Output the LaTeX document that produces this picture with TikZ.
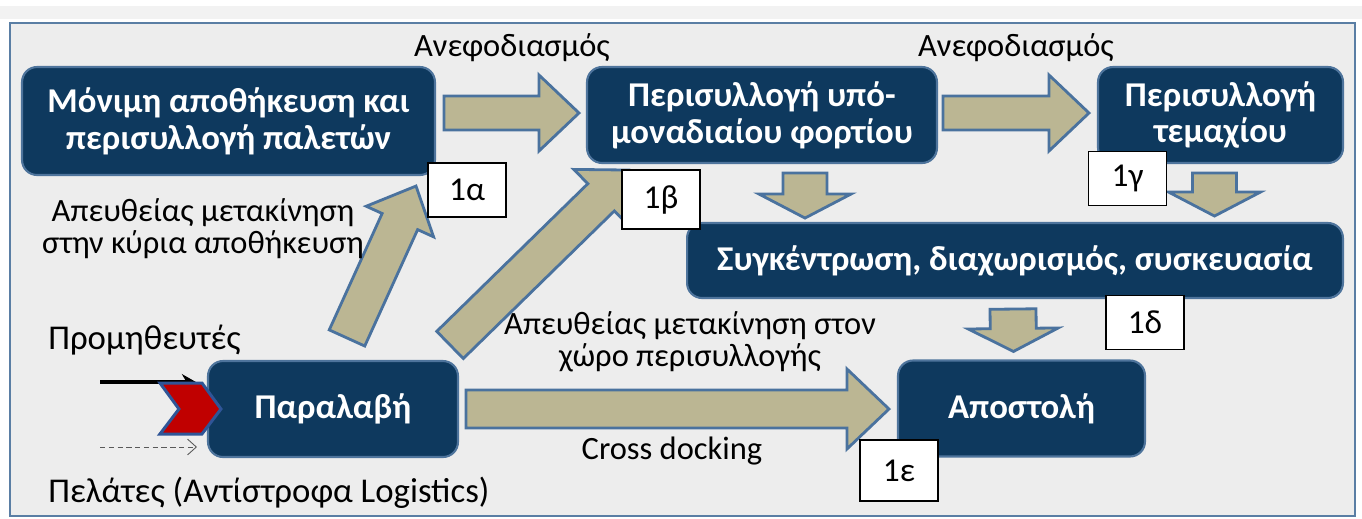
\documentclass[tikz,border=0pt]{standalone}
\usepackage{fontspec}
\setmainfont{Carlito}
\usetikzlibrary{arrows.meta, positioning, calc}
\definecolor{navy}{RGB}{14,57,94}
\definecolor{navyedge}{RGB}{78,116,156}
\definecolor{khaki}{RGB}{187,182,147}
\definecolor{khakiedge}{RGB}{74,114,158}
\definecolor{panel}{RGB}{237,237,237}
\definecolor{paneledge}{RGB}{90,126,164}
\definecolor{strip}{RGB}{242,242,242}
\definecolor{chevred}{RGB}{192,0,0}
\definecolor{chevblue}{RGB}{47,85,151}
\tikzset{
  stage/.style={rectangle, draw=navyedge, fill=navy, text=white,
    align=center, rounded corners=0.3cm, line width=1.2pt, inner sep=0pt,
    font=\fontsize{19.8}{21}\selectfont\bfseries},
  tag/.style={rectangle, draw=black, fill=white, line width=0.6pt,
    minimum width=1.56cm, minimum height=1.08cm, inner sep=0pt,
    font=\fontsize{19}{20}\selectfont},
  lbl/.style={font=\fontsize{18.5}{18.2}\selectfont, align=center, inner sep=0pt},
  fat/.style={draw=khakiedge, fill=khaki, line width=1.6pt, line join=miter}
}
% block arrow: start, tip, half shaft width, half head width, head length
\newcommand{\fatarrow}[5]{%
  \coordinate (fa-s) at #1;
  \coordinate (fa-e) at #2;
  \coordinate (fa-n) at ($(fa-e)!#5!(fa-s)$);
  \draw[fat] ($(fa-s)!#3!90:(fa-e)$) -- ($(fa-n)!#3!90:(fa-e)$)
    -- ($(fa-n)!#4!90:(fa-e)$) -- (fa-e) -- ($(fa-n)!#4!-90:(fa-e)$)
    -- ($(fa-n)!#3!-90:(fa-e)$) -- ($(fa-s)!#3!-90:(fa-e)$) -- cycle;
}

\begin{document}
\begin{tikzpicture}[x=0.02cm, y=-0.02cm]
  \useasboundingbox (0,0) rectangle (1362,518);
  \fill[strip] (0,6) rectangle (1362,19);
  \draw[paneledge, fill=panel, line width=1.5pt] (10,23) rectangle (1355,516);

  % stages
  \node[stage, minimum width=8.26cm, minimum height=2.16cm] (pallet) at (228.5,121)
    {Μόνιμη αποθήκευση και\\περισυλλογή παλετών};
  \node[stage, minimum width=7.0cm, minimum height=1.92cm] (subunit) at (762,115)
    {Περισυλλογή υπό-\\μοναδιαίου φορτίου};
  \node[stage, minimum width=4.9cm, minimum height=1.92cm] (piece) at (1220.5,115)
    {Περισυλλογή\\τεμαχίου};
  \node[stage, minimum width=13.12cm, minimum height=1.5cm] (pack) at (1015,260.5)
    {Συγκέντρωση, διαχωρισμός, συσκευασία};
  \node[stage, minimum width=5.0cm, minimum height=1.92cm] (recv) at (333,409)
    {Παραλαβή};
  \node[stage, minimum width=4.94cm, minimum height=1.92cm] (ship) at (1021.5,408.5)
    {Αποστολή};

  % flows
  \fatarrow{($(pallet.east |- subunit.west)+(8,-2)$)}{($(subunit.west)+(-7,-2)$)}{0.34cm}{0.76cm}{0.8cm}
  \fatarrow{($(subunit.east)+(5,-2)$)}{($(piece.west)+(-8,-2)$)}{0.34cm}{0.76cm}{0.8cm}
  \fatarrow{($(subunit.south)+(43,9)$)}{($(subunit.south)+(43,54)$)}{0.44cm}{0.92cm}{0.48cm}
  \fatarrow{($(piece.south)+(-6,9)$)}{($(piece.south)+(-6,52)$)}{0.44cm}{0.92cm}{0.48cm}
  \fatarrow{($(pack.south)+(-2,10)$)}{($(ship.north)+(-8,-8)$)}{0.46cm}{0.9cm}{0.46cm}
  \fatarrow{($(recv.east)+(7,0)$)}{($(ship.west)+(-8,0.5)$)}{0.38cm}{0.8cm}{0.84cm}
  \fatarrow{($(recv.north)+(14,-22)$)}{($(pallet.south east)+(-20,10)$)}{0.39cm}{0.74cm}{0.78cm}
  \fatarrow{($(recv.north east)+(-9,-15)$)}{($(subunit.south west)+(43,6)$)}{0.38cm}{0.78cm}{0.78cm}

  % inputs to receiving
  \coordinate (supin) at (100,382);
  \coordinate (custin) at (100,447);
  \draw[line width=2.2pt, -{Stealth[length=8pt, width=9pt]}] (supin) -- ($(supin -| recv.west)+(-11,0)$);
  \draw[gray!70!black, densely dashed, line width=0.5pt, -{Straight Barb[length=5pt, width=9pt]}]
    (custin) -- ($(custin -| recv.west)+(-10,0)$);
  \draw[fill=chevred, draw=chevblue, line width=1.7pt, line join=miter, shift={(recv.west)}]
    (-47,-26) -- (-5,-26) -- (14,0) -- (-5,25) -- (-47,25) -- (-28,0) -- cycle;

  % numbering
  \node[tag] (t1a) at (467,190) {1α};
  \node[tag, minimum height=1.18cm] (t1b) at (661,199.5) {1β};
  \node[tag] (t1c) at (1127.5,178.5) {1γ};
  \node[tag] (t1d) at (1145,322.5) {1δ};
  \node[tag, minimum height=1.22cm] (t1e) at (899,470.5) {1ε};

  % texts
  \node[lbl] (re1) at (512,48) {Ανεφοδιασμός};
  \node[lbl] (re2) at (1016,48) {Ανεφοδιασμός};
  \node[lbl] (direct1) at (203,229) {Απευθείας μετακίνηση\\στην κύρια αποθήκευση};
  \node[lbl] (direct2) at (690,342) {Απευθείας μετακίνηση στον\\χώρο περισυλλογής};
  \node[lbl] (xdock) at (672,451) {Cross docking};
  \node[lbl, anchor=west, font=\fontsize{19.8}{20}\selectfont] (supp) at (48,340) {Προμηθευτές};
  \node[lbl, anchor=west, font=\fontsize{19.8}{20}\selectfont] (cust) at (48,493) {Πελάτες (Αντίστροφα Logistics)};
\end{tikzpicture}
\end{document}
